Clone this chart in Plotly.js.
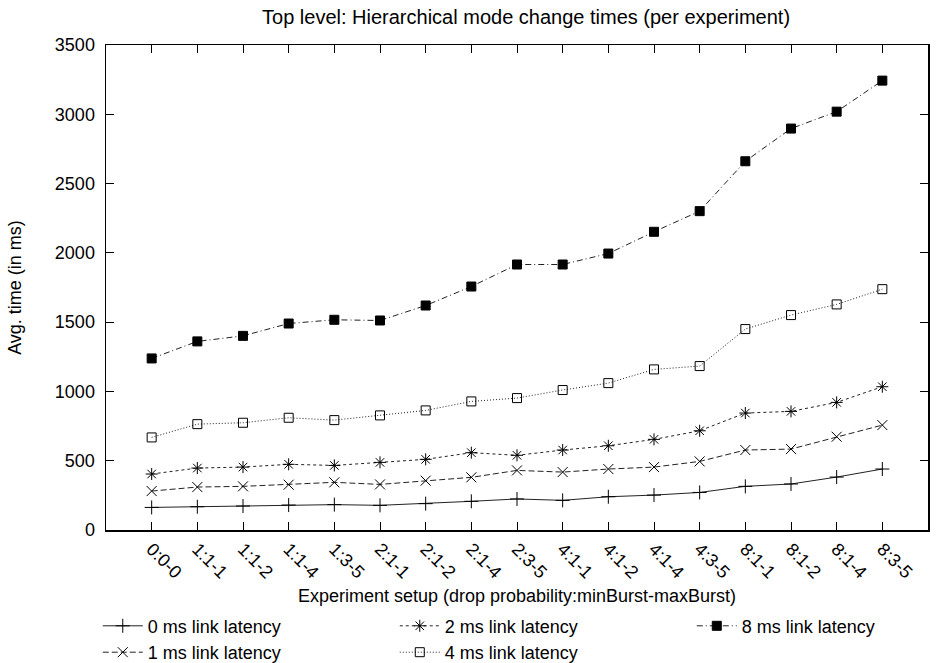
<!DOCTYPE html>
<html>
<head>
<meta charset="utf-8">
<script src="https://cdn.plot.ly/plotly-3.0.1.min.js"></script>
<style>html,body{margin:0;padding:0;background:#fff;}#chart{width:948px;height:663px;}</style>
</head>
<body>
<div id="chart"></div>
<script>
const categories = ["0:0-0","1:1-1","1:1-2","1:1-4","1:3-5","2:1-1","2:1-2","2:1-4","2:3-5","4:1-1","4:1-2","4:1-4","4:3-5","8:1-1","8:1-2","8:1-4","8:3-5"];
const lat0 = [163,168,173,180,183,178,190,207,224,214,240,252,271,315,332,382,440];
const lat1 = [281,310,315,327,344,329,356,380,430,418,440,454,495,577,584,673,757];
const lat2 = [404,447,454,474,466,488,510,558,539,577,608,654,716,844,856,921,1034];
const lat4 = [668,764,774,810,793,827,863,928,952,1010,1060,1159,1183,1450,1551,1628,1738];
const lat8 = [1238,1361,1401,1490,1517,1512,1620,1757,1916,1916,1995,2152,2301,2661,2897,3019,3243];
const seriesNames = ["0 ms link latency","1 ms link latency","2 ms link latency","4 ms link latency","8 ms link latency"];

const FONT = "Liberation Sans, Arial, Helvetica, sans-serif";
const styles = [
  {dash:"solid", symbol:"cross-thin-open", size:10, rank:1},
  {dash:"6px,3px", symbol:"x-thin-open", size:10, rank:4},
  {dash:"3px,3px", symbol:"asterisk-open", size:10, rank:2},
  {dash:"1px,2px", symbol:"square-open", size:9, rank:5},
  {dash:"6px,3px,1px,3px", symbol:"square", size:9, rank:3}
];
const values = [lat0, lat1, lat2, lat4, lat8];
const traces = values.map((v, i) => ({
  type: "scatter",
  mode: "lines+markers",
  name: seriesNames[i],
  x: categories,
  y: v,
  legendrank: styles[i].rank,
  line: {color: "#222", width: 1, dash: styles[i].dash},
  marker: {symbol: styles[i].symbol, size: styles[i].size, color: "#000", line: {color: "#000", width: 1}}
}));

const layout = {
  width: 948, height: 663,
  paper_bgcolor: "#fff", plot_bgcolor: "#fff",
  font: {family: FONT, size: 18, color: "#000"},
  margin: {l: 106, r: 20, t: 45, b: 133, autoexpand: false},
  title: {text: "Top level: Hierarchical mode change times (per experiment)", font: {size: 20}, x: 0.511, xref: "paper", xanchor: "center", y: 0.975, yanchor: "middle"},
  showlegend: true,
  legend: {orientation: "h", x: -0.01, xanchor: "left", y: -0.16, yanchor: "top", xref: "paper", yref: "paper",
           entrywidth: 242, entrywidthmode: "pixels", font: {size: 18}, bgcolor: "rgba(0,0,0,0)", traceorder: "normal", itemwidth: 40},
  xaxis: {
    type: "category", range: [-1, 17], showgrid: false, zeroline: false,
    showline: true, linecolor: "#000", linewidth: 1.5, mirror: "ticks",
    ticks: "inside", ticklen: 8, tickwidth: 1, tickcolor: "#000", tickangle: 45,
    tickfont: {size: 18},
    title: {text: "Experiment setup (drop probability:minBurst-maxBurst)", font: {size: 18}, standoff: 8}
  },
  yaxis: {
    range: [0, 3500], dtick: 500, tick0: 0, showgrid: false, zeroline: false,
    showline: true, linecolor: "#000", linewidth: 1.5, mirror: "ticks",
    ticks: "inside", ticklen: 8, tickwidth: 1, tickcolor: "#000",
    tickfont: {size: 18}, ticklabelstandoff: 6,
    title: {text: "Avg. time (in ms)", font: {size: 18}, standoff: 28}
  }
};
Plotly.newPlot("chart", traces, layout, {displayModeBar: false, staticPlot: true});
</script>
</body>
</html>
